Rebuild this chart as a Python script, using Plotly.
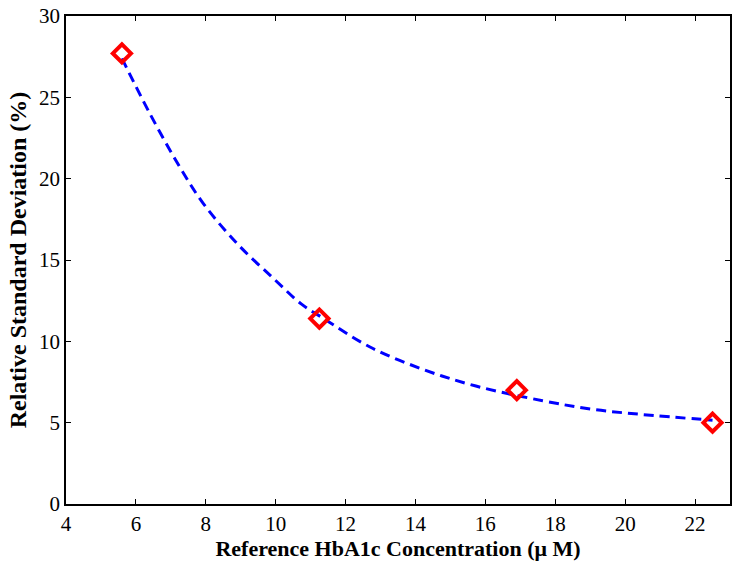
import plotly.graph_objects as go

# Measured points
conc = [5.6, 11.25, 16.9, 22.5]
rsd = [27.7, 11.4, 7.0, 5.0]

# Fitted curve
curve_x = [5.6, 6.4, 7.26, 7.92, 8.9, 9.92, 10.73, 11.3, 12.7, 14.21, 15.73, 17.64, 19.07, 20.5, 22.5]
curve_y = [27.4, 24.0, 20.7, 18.5, 16.0, 13.9, 12.3, 11.5, 9.65, 8.28, 7.25, 6.35, 5.82, 5.5, 5.15]

x_ticks = [4, 6, 8, 10, 12, 14, 16, 18, 20, 22]
y_ticks = [0, 5, 10, 15, 20, 25, 30]

fig = go.Figure()
fig.add_trace(go.Scatter(
    x=curve_x, y=curve_y, mode="lines", line_shape="spline",
    line=dict(color="#0000ff", width=3, dash="10px,6px"),
    showlegend=False, hoverinfo="skip",
))
fig.add_trace(go.Scatter(
    x=conc, y=rsd, mode="markers",
    marker=dict(symbol="diamond-open", size=14, color="#ff0000",
                line=dict(color="#ff0000", width=4)),
    showlegend=False,
))

font_tick = dict(family="Liberation Serif, Times New Roman, serif", size=21, color="black")
font_xtitle = dict(family="Liberation Serif, Times New Roman, serif", size=22, color="black")
font_ytitle = dict(family="Liberation Serif, Times New Roman, serif", size=24, color="black")

fig.update_layout(
    width=741, height=562,
    margin=dict(l=66, r=11, t=16, b=58, autoexpand=False),
    paper_bgcolor="white", plot_bgcolor="white",
    xaxis=dict(
        range=[4, 23], tickvals=x_ticks, ticks="inside", ticklen=5, tickcolor="black",
        showline=True, linecolor="black", linewidth=1.5, mirror="ticks",
        showgrid=False, zeroline=False, tickfont=font_tick, automargin=False,
        title=dict(text="<b>Reference HbA1c Concentration (μ M)</b>", font=font_xtitle, standoff=2),
    ),
    yaxis=dict(
        range=[0, 30], tickvals=y_ticks, ticks="inside", ticklen=5, tickcolor="black",
        showline=True, linecolor="black", linewidth=1.5, mirror="ticks",
        showgrid=False, zeroline=False, tickfont=font_tick, automargin=False,
        title=dict(text="<b>Relative Standard Deviation (%)</b>", font=font_ytitle, standoff=6),
    ),
)

fig.write_html("out.html", config={"displayModeBar": False},
               post_script="document.body.style.margin='0';document.body.style.overflow='hidden';")
